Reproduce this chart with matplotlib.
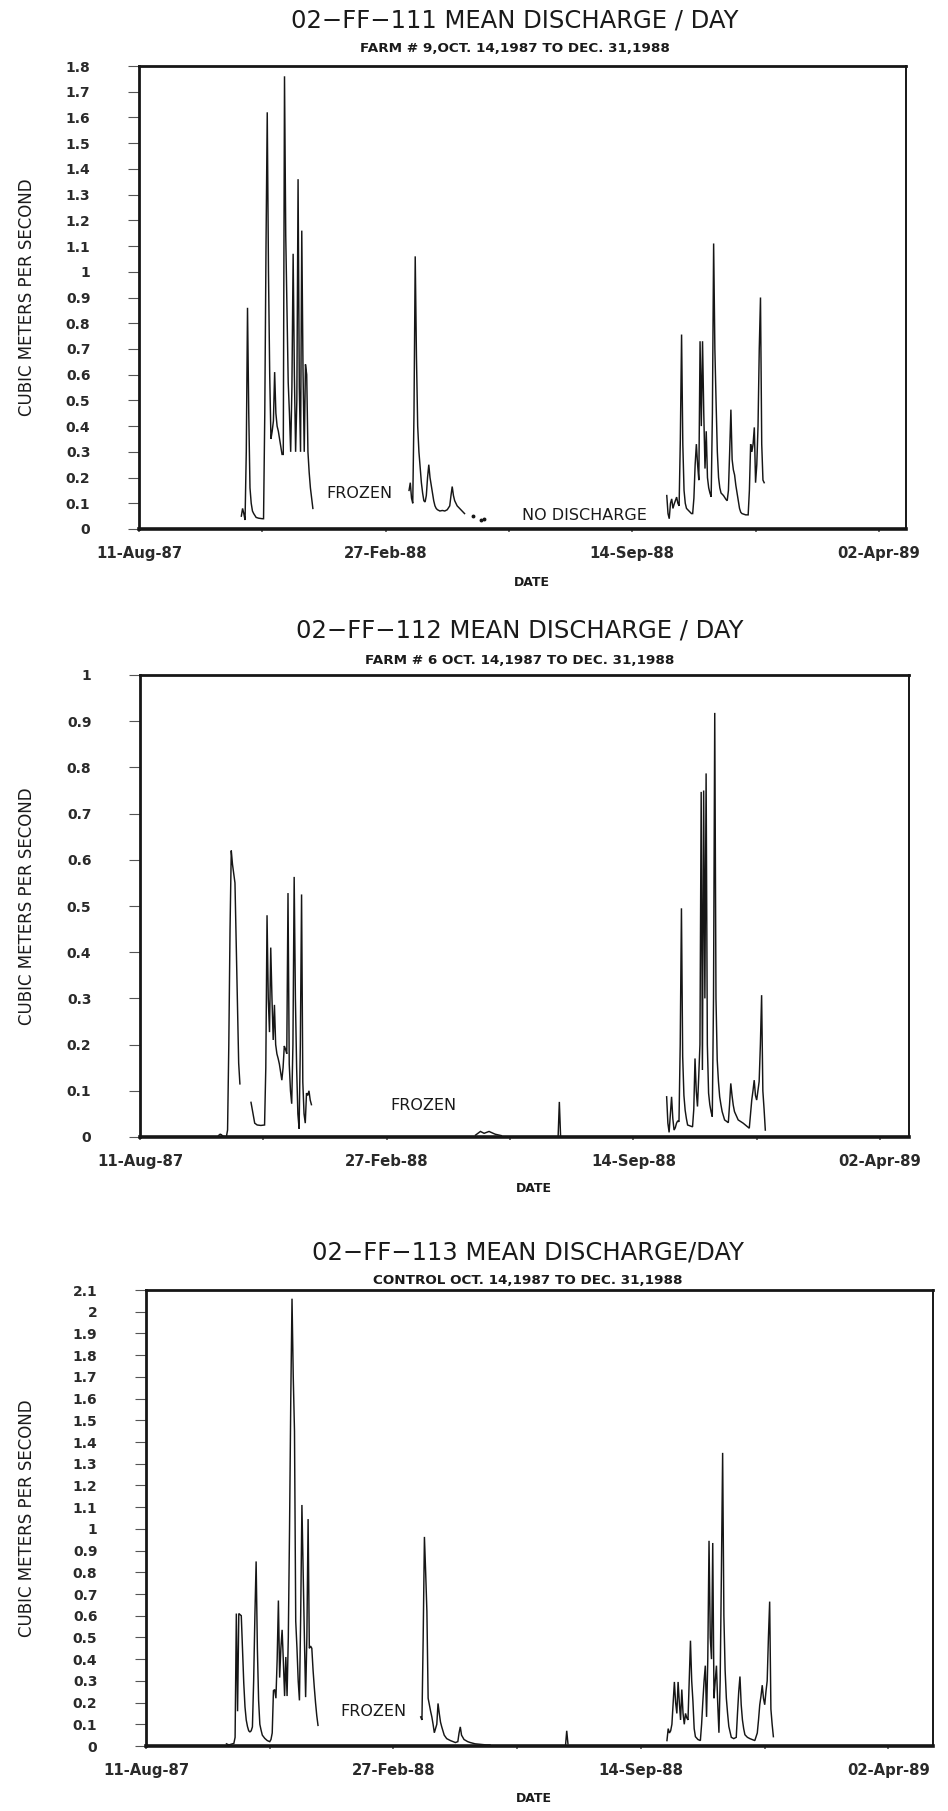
import numpy as np
import matplotlib
matplotlib.use("Agg")
import matplotlib.pyplot as plt

W, H, DPI = 948, 1811, 100
NAN = np.nan
INK = "#161616"

# Date axis: x is days after 11-Aug-1987
x_ticks = [0, 200, 400, 600]
x_minor = [100, 300, 500]
x_tick_labels = ["11-Aug-87", "27-Feb-88", "14-Sep-88", "02-Apr-89"]

# ---------------- 02-FF-111 (farm #9) ----------------
ff111_day = [83, 84, 85, 86, 87, 88, 89, 90, 91, 92, 93, 95, 97, 100, 101, 102, 103, 104, 105, 106,
             107, 108, 109, 110, 111, 112, 113, 114, 115, 116, 117, 118, 119, 120, 121, 122, 123, 124,
             125, 126, 127, 128, 129, 130, 131, 132, 133, 134, 135, 136, 137, 138, 139, 140, 141,
             NAN,
             219, 220, 221, 222, 223, 224, 225, 226, 227, 228, 229, 230, 231, 232, 233, 234, 235, 236,
             237, 238, 239, 240, 241, 242, 244, 246, 248, 250, 252, 253, 254, 255, 256, 258, 260, 262, 264,
             NAN,
             428, 429, 430, 431, 432, 433, 434, 435, 436, 437, 438, 439, 440, 441, 442, 443, 444, 446,
             448, 449, 450, 451, 452, 453, 454, 455, 456, 457, 458, 459, 460, 461, 462, 463, 464, 465,
             466, 467, 468, 469, 470, 471, 472, 474, 476, 477, 478, 479, 480, 481, 482, 483, 484, 485,
             486, 487, 488, 489, 492, 494, 495, 496, 497, 498, 499, 500, 501, 502, 503, 504, 505, 506, 507]
ff111_q = [0.05, 0.08, 0.06, 0.035, 0.30, 0.86, 0.45, 0.16, 0.10, 0.07, 0.06, 0.045, 0.042, 0.04, 0.04,
           0.45, 1.10, 1.62, 1.00, 0.60, 0.35, 0.38, 0.42, 0.61, 0.45, 0.40, 0.38, 0.35, 0.32, 0.29, 0.29,
           1.76, 1.14, 0.85, 0.57, 0.45, 0.30, 0.55, 1.07, 0.60, 0.30, 0.50, 1.36, 0.55, 0.30, 1.16, 0.62,
           0.30, 0.64, 0.60, 0.30, 0.22, 0.16, 0.12, 0.08,
           NAN,
           0.15, 0.18, 0.12, 0.10, 0.45, 1.06, 0.67, 0.40, 0.30, 0.24, 0.18, 0.14, 0.11, 0.105, 0.13,
           0.20, 0.25, 0.20, 0.17, 0.14, 0.11, 0.09, 0.08, 0.075, 0.07, 0.072, 0.07, 0.075, 0.09, 0.13,
           0.165, 0.13, 0.11, 0.09, 0.08, 0.07, 0.06,
           NAN,
           0.13, 0.06, 0.04, 0.10, 0.117, 0.08, 0.097, 0.11, 0.124, 0.10, 0.09, 0.35, 0.756, 0.33, 0.15,
           0.10, 0.08, 0.07, 0.06, 0.06, 0.12, 0.25, 0.33, 0.25, 0.19, 0.73, 0.40, 0.73, 0.45, 0.235,
           0.38, 0.20, 0.16, 0.14, 0.125, 0.45, 1.11, 0.70, 0.49, 0.30, 0.20, 0.16, 0.14, 0.13, 0.115,
           0.11, 0.15, 0.30, 0.464, 0.27, 0.23, 0.21, 0.17, 0.14, 0.11, 0.08, 0.065, 0.06, 0.055, 0.055,
           0.15, 0.33, 0.30, 0.33, 0.395, 0.18, 0.25, 0.40, 0.70, 0.90, 0.33, 0.19, 0.18]
ff111_dot_day = [271, 277, 280]
ff111_dot_q = [0.05, 0.035, 0.04]

# ---------------- 02-FF-112 (farm #6) ----------------
ff112_day = [63, 64, 65, 66, 67, 70, 71, 72, 73, 74, 75, 76, 77, 78, 79, 80, 81,
             NAN,
             90, 91, 92, 93, 95, 98, 101, 102, 103, 104, 105, 106, 107, 108, 109, 110, 111, 112, 113,
             114, 115, 116, 117, 118, 119, 120, 121, 122, 123, 124, 125, 126, 127, 128, 129, 130, 131,
             132, 133, 134, 135, 136, 137, 138, 139,
             NAN,
             272, 276, 279, 283, 288, 293,
             NAN,
             339, 340, 341,
             NAN,
             427, 428, 429, 430, 431, 432, 433, 434, 435, 436, 437, 438, 439, 440, 441, 442, 443, 444,
             446, 448, 449, 450, 451, 452, 453, 454, 455, 456, 457, 458, 459, 460, 461, 462, 463, 464,
             465, 466, 467, 468, 469, 470, 471, 472, 474, 477, 478, 479, 480, 481, 482, 485, 489, 494,
             495, 496, 497, 498, 499, 500, 501, 502, 503, 504, 505, 506, 507]
ff112_q = [0.0, 0.004, 0.006, 0.005, 0.002, 0.0, 0.015, 0.20, 0.45, 0.62, 0.59, 0.57, 0.55, 0.42,
           0.28, 0.16, 0.115,
           NAN,
           0.075, 0.06, 0.045, 0.03, 0.026, 0.025, 0.026, 0.15, 0.48, 0.30, 0.227, 0.41, 0.30, 0.21,
           0.286, 0.20, 0.18, 0.17, 0.158, 0.14, 0.123, 0.15, 0.197, 0.19, 0.18, 0.528, 0.158, 0.10,
           0.072, 0.20, 0.563, 0.30, 0.15, 0.05, 0.018, 0.20, 0.525, 0.119, 0.05, 0.03, 0.095, 0.09,
           0.10, 0.08, 0.07,
           NAN,
           0.004, 0.012, 0.008, 0.012, 0.006, 0.003,
           NAN,
           0.0, 0.076, 0.002,
           NAN,
           0.087, 0.03, 0.01, 0.05, 0.087, 0.04, 0.015, 0.02, 0.03, 0.035, 0.033, 0.20, 0.495, 0.174,
           0.09, 0.058, 0.04, 0.026, 0.024, 0.022, 0.06, 0.17, 0.10, 0.066, 0.13, 0.20, 0.747, 0.145,
           0.75, 0.30, 0.787, 0.20, 0.095, 0.07, 0.055, 0.044, 0.30, 0.918, 0.30, 0.167, 0.12, 0.087,
           0.07, 0.055, 0.037, 0.031, 0.07, 0.116, 0.09, 0.069, 0.055, 0.037, 0.03, 0.019, 0.05, 0.08,
           0.10, 0.123, 0.09, 0.08, 0.10, 0.12, 0.20, 0.307, 0.10, 0.06, 0.015]

# ---------------- 02-FF-113 (control) ----------------
ff113_day = [65, 67, 70, 71, 72, 73, 74, 75, 76, 77, 78, 79, 80, 81, 82, 83, 84, 85, 86, 87, 88, 89,
             90, 91, 92, 93, 94, 96, 98, 100, 101, 102, 103, 104, 105, 106, 107, 108, 109, 110, 111,
             112, 113, 114, 115, 116, 117, 118, 119, 120, 121, 122, 123, 124, 125, 126, 127, 128, 129,
             130, 131, 132, 133, 134, 135, 136, 137, 138, 139,
             NAN,
             222, 223, 224, 225, 226, 227, 228, 229, 230, 231, 232, 233, 235, 236, 237, 238, 239, 241,
             243, 246, 250, 252, 253, 254, 255, 257, 260, 262, 266, 270, 275, 278,
             NAN,
             339, 340, 341,
             NAN,
             421, 422, 423, 424, 425, 426, 427, 428, 429, 430, 431, 432, 433, 434, 435, 436, 437, 438,
             439, 440, 441, 442, 443, 444, 446, 448, 449, 450, 451, 452, 453, 454, 455, 456, 457, 458,
             459, 460, 461, 462, 463, 464, 465, 466, 467, 468, 469, 470, 471, 473, 475, 477, 478, 479,
             480, 481, 482, 483, 484, 486, 488, 492, 494, 495, 496, 497, 498, 499, 500, 501, 502, 503,
             504, 505, 506, 507]
ff113_q = [0.01, 0.005, 0.01, 0.012, 0.04, 0.61, 0.16, 0.61, 0.605, 0.60, 0.45, 0.29, 0.18, 0.12,
           0.09, 0.07, 0.065, 0.07, 0.088, 0.30, 0.60, 0.85, 0.45, 0.21, 0.10, 0.073, 0.05, 0.035,
           0.025, 0.02, 0.03, 0.06, 0.255, 0.26, 0.22, 0.40, 0.67, 0.315, 0.45, 0.535, 0.39, 0.23,
           0.41, 0.23, 0.50, 1.00, 1.60, 2.06, 1.70, 1.45, 0.575, 0.45, 0.30, 0.21, 0.60, 1.11, 0.80,
           0.50, 0.225, 0.50, 1.045, 0.45, 0.46, 0.45, 0.35, 0.27, 0.20, 0.14, 0.095,
           NAN,
           0.134, 0.12, 0.50, 0.963, 0.80, 0.62, 0.22, 0.19, 0.16, 0.134, 0.10, 0.061, 0.10, 0.196,
           0.15, 0.11, 0.088, 0.05, 0.034, 0.025, 0.016, 0.02, 0.06, 0.088, 0.05, 0.03, 0.02, 0.016,
           0.01, 0.008, 0.005, 0.005,
           NAN,
           0.0, 0.07, 0.01,
           NAN,
           0.025, 0.08, 0.06, 0.07, 0.10, 0.20, 0.295, 0.20, 0.15, 0.295, 0.20, 0.12, 0.26, 0.15, 0.10,
           0.15, 0.13, 0.12, 0.30, 0.485, 0.30, 0.205, 0.08, 0.043, 0.03, 0.025, 0.10, 0.205, 0.30,
           0.37, 0.134, 0.40, 0.945, 0.50, 0.40, 0.935, 0.22, 0.30, 0.37, 0.20, 0.061, 0.30, 0.80,
           1.35, 0.60, 0.35, 0.22, 0.15, 0.09, 0.04, 0.034, 0.04, 0.15, 0.25, 0.32, 0.19, 0.12, 0.08,
           0.052, 0.04, 0.034, 0.025, 0.06, 0.12, 0.19, 0.23, 0.28, 0.22, 0.19, 0.25, 0.30, 0.50,
           0.665, 0.17, 0.10, 0.043]

# Each frame: pixel box (left, right, top, bottom) and the day at its right edge
panels = [
    dict(title="02\u2212FF\u2212111 MEAN DISCHARGE / DAY",
         subtitle="FARM # 9,OCT. 14,1987 TO DEC. 31,1988",
         day=ff111_day, q=ff111_q, dot_day=ff111_dot_day, dot_q=ff111_dot_q,
         ymax=1.8, box=(139, 906, 66, 529), xend=622,
         title_x=515, title_y=21, sub_y=49, date=(532, 583),
         notes=[("FROZEN", 359, 493), ("NO DISCHARGE", 584, 515)]),
    dict(title="02\u2212FF\u2212112 MEAN DISCHARGE / DAY",
         subtitle="FARM # 6 OCT. 14,1987 TO DEC. 31,1988",
         day=ff112_day, q=ff112_q, dot_day=[], dot_q=[],
         ymax=1.0, box=(140, 909, 675, 1137), xend=623.5,
         title_x=520, title_y=630, sub_y=661, date=(534, 1188),
         notes=[("FROZEN", 423, 1106)]),
    dict(title="02\u2212FF\u2212113 MEAN DISCHARGE/DAY",
         subtitle="CONTROL OCT. 14,1987 TO DEC. 31,1988",
         day=ff113_day, q=ff113_q, dot_day=[], dot_q=[],
         ymax=2.1, box=(146, 933, 1290, 1746), xend=636,
         title_x=528, title_y=1252, sub_y=1280, date=(534, 1798),
         notes=[("FROZEN", 373, 1712)]),
]

fig = plt.figure(figsize=(W / DPI, H / DPI), dpi=DPI, facecolor="white")


def fx(px):
    return px / W


def fy(py):
    return 1 - py / H


for p in panels:
    l, r, t, b = p["box"]
    ax = fig.add_axes([fx(l), fy(b), (r - l) / W, (b - t) / H])
    ax.plot(p["day"], p["q"], color=INK, lw=1.05, solid_joinstyle="miter")
    if p["dot_day"]:
        ax.plot(p["dot_day"], p["dot_q"], ls="none", marker="o", ms=1.8, color=INK)
    ax.set_xlim(0, p["xend"])
    ax.set_ylim(0, p["ymax"])

    yt = np.round(np.arange(0, p["ymax"] + 1e-9, 0.1), 1)
    ax.set_yticks(yt)
    ax.set_yticklabels([f"{v:g}" for v in yt], fontsize=10, fontweight="bold", color="#2a2a2a")
    ax.set_xticks(x_ticks)
    ax.set_xticks(x_minor, minor=True)
    ax.set_xticklabels(x_tick_labels, fontsize=10.7, fontweight="bold", color="#2a2a2a")

    ax.tick_params(axis="y", direction="out", length=8, width=0.8, pad=27, color="#555555")
    ax.tick_params(axis="x", which="both", direction="out", length=2.5, width=1.2, pad=9.5,
                   color="#555555")

    for side, lw in (("left", 2.0), ("bottom", 2.6), ("top", 2.0), ("right", 1.4)):
        ax.spines[side].set_linewidth(lw)
        ax.spines[side].set_color(INK)

    fig.text(fx(p["title_x"]), fy(p["title_y"]), p["title"], ha="center", va="center",
             fontsize=17.5, color="#1a1a1a")
    fig.text(fx(p["title_x"]), fy(p["sub_y"]), p["subtitle"], ha="center", va="center",
             fontsize=9.7, fontweight="bold", color="#1a1a1a")
    fig.text(fx(p["date"][0]), fy(p["date"][1]), "DATE", ha="center", va="center",
             fontsize=9, fontweight="bold", color="#1a1a1a")
    fig.text(fx(27), fy((t + b) / 2), "CUBIC METERS PER SECOND", rotation=90,
             ha="center", va="center", fontsize=12, color="#1a1a1a")
    for txt, x, y in p["notes"]:
        fig.text(fx(x), fy(y), txt, ha="center", va="center", fontsize=11.5, color="#1a1a1a")

fig.savefig("out.png", dpi=DPI, facecolor="white")
